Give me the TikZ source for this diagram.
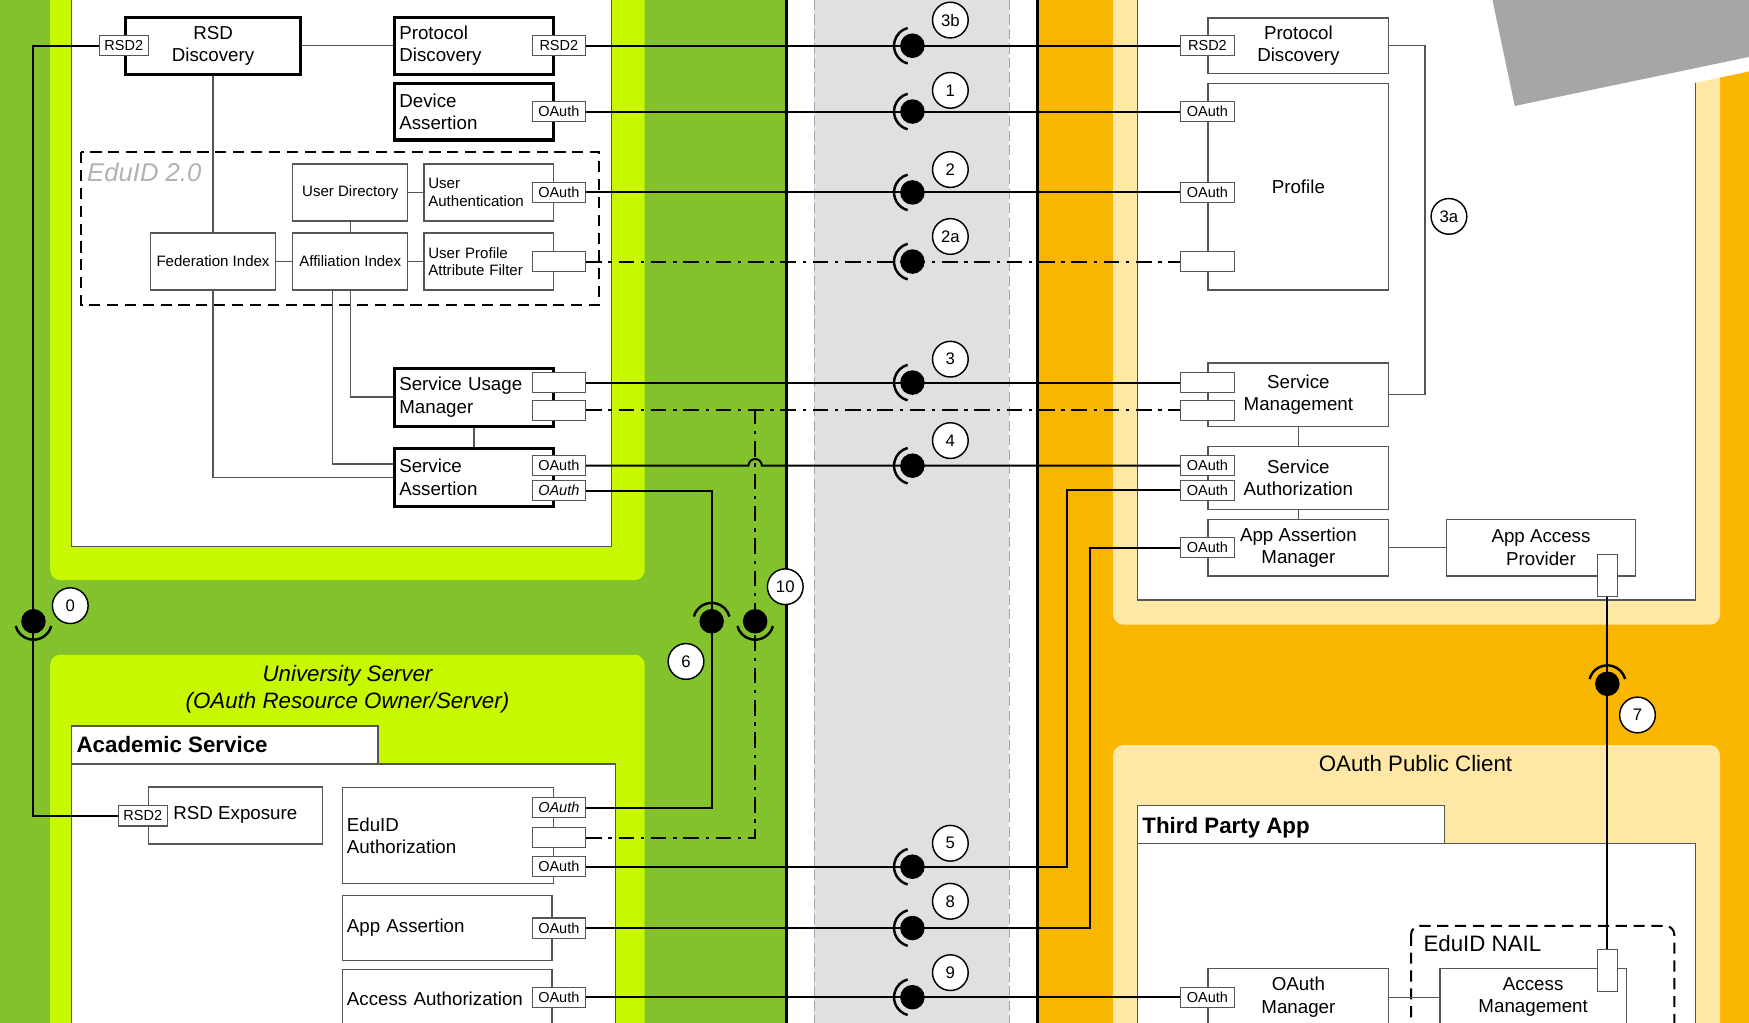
\documentclass[tikz,border=0pt]{standalone}
\usepackage{fontspec}
\setmainfont{Liberation Sans}

\definecolor{leaf}{RGB}{130,195,45}
\definecolor{limefill}{RGB}{200,248,0}
\definecolor{amber}{RGB}{248,182,0}
\definecolor{sand}{RGB}{255,232,165}
\definecolor{lane}{RGB}{224,224,224}
\definecolor{slate}{RGB}{166,166,166}
\definecolor{rim}{RGB}{85,85,85}

\newcommand\bigtxt{\fontsize{16.8pt}{20pt}\selectfont}
\newcommand\smalltxt{\fontsize{13.5pt}{16pt}\selectfont}
\newcommand\porttxt{\fontsize{13pt}{15pt}\selectfont}
\newcommand\numtxt{\fontsize{15pt}{17pt}\selectfont}
\newcommand\headtxt{\fontsize{20pt}{24pt}\selectfont}

\tikzset{
  comp/.style={draw=rim, line width=1.2pt, fill=white, inner sep=0pt, font=\bigtxt, align=center},
  heavy/.style={comp, draw=black, line width=2.8pt},
  ltext/.style={inner xsep=4pt, text width=#1, align=left},
  port/.style={draw=rim, line width=1pt, fill=white, minimum width=48pt, minimum height=18pt, inner sep=0pt, font=\porttxt},
  vport/.style={port, minimum width=17.5pt, minimum height=37pt},
  wire/.style={line width=1.8pt},
  link/.style={draw=rim, line width=1.1pt},
  dashdot/.style={wire, dash pattern=on 14pt off 6pt on 3pt off 6pt},
  panel/.style={draw=rim, line width=1.2pt, fill=white},
  dashbox/.style={line width=1.8pt, dash pattern=on 10pt off 6pt},
  num/.style={circle, draw, fill=white, line width=1.3pt, minimum size=32pt, inner sep=0pt, font=\numtxt},
  pics/socket/.style={code={
    \fill (0,0) circle (11);
    \draw[line width=2.2pt] (#1-75:16.5) arc (#1-75:#1+75:16.5);
  }},
}

\begin{document}
\begin{tikzpicture}[x=1pt,y=-1pt]
\useasboundingbox (0,0) rectangle (1568,917);
\clip (0,0) rectangle (1568,917);

% lanes
\fill[white] (0,0) rectangle (1568,917);
\fill[leaf] (0,0) rectangle (705,917);
\fill[lane] (730,0) rectangle (905,917);
\draw[black!35, line width=1pt, dash pattern=on 9pt off 4pt] (730,0) -- (730,917) (905,0) -- (905,917);
\fill[amber] (930,0) rectangle (1568,917);
\draw[line width=2.2pt] (705,0) -- (705,917) (930,0) -- (930,917);

% containers
\fill[limefill, rounded corners=9pt] (45,-20) rectangle (578,520);
\draw[panel] (64,-20) rectangle (548,490);
\fill[limefill, rounded corners=9pt] (45,587) rectangle (578,940);
\draw[panel] (64,685) rectangle (552,940);
\draw[panel] (64,651) rectangle (339,685);
\fill[sand, rounded corners=9pt] (998,-20) rectangle (1542,560);
\draw[panel] (1020,-20) rectangle (1520,538);
\fill[sand, rounded corners=9pt] (998,668) rectangle (1542,940);
\draw[panel] (1020,756) rectangle (1520,940);
\draw[panel] (1020,722) rectangle (1295,756);
\fill[white] (1330,0) -- (1568,0) -- (1568,64) -- (1330,114) -- cycle;
\fill[slate] (1338,0) -- (1568,0) -- (1568,51) -- (1358,95) -- cycle;
\draw[dashbox] (73,136.5) rectangle (537,273.5);
\draw[dashbox, rounded corners=8pt] (1265,830) rectangle (1501,940);

% titles
\node[anchor=base west, inner sep=0pt, font=\fontsize{23pt}{27pt}\selectfont\itshape, text=black!30] (eid) at (78,163) {EduID 2.0};
\node[anchor=base, inner sep=0pt, font=\headtxt\itshape] (uni1) at (311.5,611) {University Server};
\node[anchor=base, inner sep=0pt, font=\headtxt\itshape] (uni2) at (311.5,635) {(OAuth Resource Owner/Server)};
\node[anchor=base west, inner sep=0pt, font=\headtxt\bfseries] (acs) at (68.5,675) {Academic Service};
\node[anchor=base, inner sep=0pt, font=\headtxt] (opc) at (1269,692) {OAuth Public Client};
\node[anchor=base west, inner sep=0pt, font=\headtxt\bfseries] (tpa) at (1024,747) {Third Party App};
\node[anchor=base west, inner sep=0pt, font=\headtxt] (nail) at (1276,853) {EduID NAIL};

% university server, upper part
\node[heavy, minimum width=157pt, minimum height=51pt] (rsd) at (191,41) {RSD\\Discovery};
\node[port, minimum width=44pt] (rsd-p) at (111,41) {RSD2};
\node[heavy, minimum width=142pt, minimum height=51pt, ltext=134pt] (pdl) at (425,41) {Protocol\\Discovery};
\node[port] (pdl-p) at (501,41) {RSD2};
\node[heavy, minimum width=142pt, minimum height=51pt, ltext=134pt] (da) at (425,100) {Device\\Assertion};
\node[port] (da-p) at (501,100) {OAuth};
\node[comp, minimum width=103pt, minimum height=51pt, font=\smalltxt] (ud) at (314,172.5) {User Directory};
\node[comp, minimum width=116pt, minimum height=51pt, ltext=108pt, font=\smalltxt] (ua) at (438,172.5) {User\\Authentication};
\node[port] (ua-p) at (501,172.5) {OAuth};
\node[comp, minimum width=112pt, minimum height=51pt, font=\smalltxt] (fed) at (191,234.5) {Federation Index};
\node[comp, minimum width=103pt, minimum height=51pt, font=\smalltxt] (aff) at (314,234.5) {Affiliation Index};
\node[comp, minimum width=116pt, minimum height=51pt, ltext=108pt, font=\smalltxt] (upf) at (438,234.5) {User Profile\\Attribute Filter};
\node[port] (upf-p) at (501,234.5) {};
\node[heavy, minimum width=142pt, minimum height=52pt, ltext=134pt] (sum) at (425,356) {Service Usage\\Manager};
\node[port] (sum-p1) at (501,343) {};
\node[port] (sum-p2) at (501,368) {};
\node[heavy, minimum width=142pt, minimum height=52pt, ltext=134pt] (sa) at (425,428) {Service\\Assertion};
\node[port] (sa-p1) at (501,417.5) {OAuth};
\node[port] (sa-p2) at (501,440) {\textit{OAuth}};

% academic service
\node[comp, minimum width=156pt, minimum height=51pt] (rsx) at (211,731) {RSD Exposure};
\node[port, minimum width=44pt] (rsx-p) at (128,731.5) {RSD2};
\node[comp, minimum width=189pt, minimum height=86pt, ltext=181pt] (ea) at (401.5,749) {EduID\\Authorization};
\node[port] (ea-p1) at (501,724) {\textit{OAuth}};
\node[port] (ea-p2) at (501,751) {};
\node[port] (ea-p3) at (501,777) {OAuth};
\node[comp, minimum width=188pt, minimum height=58pt, ltext=180pt] (aa) at (401,832) {App Assertion};
\node[port] (aa-p) at (501,832) {OAuth};
\node[comp, minimum width=188pt, minimum height=52pt, ltext=180pt] (acc) at (401,895) {Access Authorization};
\node[port] (acc-p) at (501,894) {OAuth};

% eduid service
\node[comp, minimum width=162pt, minimum height=50pt] (pdr) at (1164,41) {Protocol\\Discovery};
\node[port] (pdr-p) at (1082.5,41) {RSD2};
\node[comp, minimum width=162pt, minimum height=185pt] (pro) at (1164,167.5) {Profile};
\node[port] (pro-p1) at (1082.5,100) {OAuth};
\node[port] (pro-p2) at (1082.5,172.5) {OAuth};
\node[port] (pro-p3) at (1082.5,234.5) {};
\node[comp, minimum width=162pt, minimum height=57pt] (sm) at (1164,354) {Service\\Management};
\node[port] (sm-p1) at (1082.5,343) {};
\node[port] (sm-p2) at (1082.5,368) {};
\node[comp, minimum width=162pt, minimum height=57pt] (sz) at (1164,428.5) {Service\\Authorization};
\node[port] (sz-p1) at (1082.5,417.5) {OAuth};
\node[port] (sz-p2) at (1082.5,439.5) {OAuth};
\node[comp, minimum width=162pt, minimum height=51pt] (aam) at (1164,491) {App Assertion\\Manager};
\node[port] (aam-p) at (1082.5,491) {OAuth};
\node[comp, minimum width=169pt, minimum height=51pt] (aap) at (1381.5,491) {App Access\\Provider};
\node[vport] (aap-p) at (1441,516) {};

% third party app
\node[comp, minimum width=162pt, minimum height=52pt] (om) at (1164,894) {OAuth\\Manager};
\node[port] (om-p) at (1082.5,894) {OAuth};
\node[comp, minimum width=167pt, minimum height=52pt] (am) at (1374.5,894) {Access\\Management};
\node[vport] (am-p) at (1441,870) {};

% internal links
\draw[link] (rsd) -- (pdl);
\draw[link] (rsd) -- (fed);
\draw[link] (ud) -- (ua);
\draw[link] (ud) -- (aff);
\draw[link] (fed) -- (aff);
\draw[link] (aff) -- (upf);
\draw[link] (aff.south) |- (sum.west);
\draw[link] ([xshift=-16pt]aff.south) |- ([yshift=12pt]sa.west);
\draw[link] (fed.south) |- (sa.west);
\draw[link] (sum) -- (sa);
\draw[link] (pdr.east) -| ([xshift=32pt]sm.east) -- (sm.east);
\draw[link] (sm) -- (sz);
\draw[link] (sz) -- (aam);
\draw[link] (aam) -- (aap);
\draw[link] (om) -- (am);

% interfaces
\coordinate (j10) at (677,368);
\coordinate (hop) at (677,417.5);
\draw[wire] (rsd-p.west) -| ([xshift=-76pt]rsx-p.west) -- (rsx-p.west);
\draw[wire] (pdl-p.east) -- (pdr-p.west);
\draw[wire] (da-p.east) -- (pro-p1.west);
\draw[wire] (ua-p.east) -- (pro-p2.west);
\draw[dashdot] (upf-p.east) -- (pro-p3.west);
\draw[wire] (sum-p1.east) -- (sm-p1.west);
\draw[dashdot] (sum-p2.east) -- (sm-p2.west);
\draw[dashdot] (ea-p2.east) -| (j10);
\draw[wire] (sa-p1.east) -- ([xshift=-6pt]hop) arc (180:360:6) -- (sz-p1.west);
\draw[wire] (sa-p2.east) -| ([xshift=113pt]ea-p1.east) -- (ea-p1.east);
\draw[wire] (ea-p3.east) -| ([xshift=-101pt]sz-p2.west) -- (sz-p2.west);
\draw[wire] (aa-p.east) -| ([xshift=-81pt]aam-p.west) -- (aam-p.west);
\draw[wire] (acc-p.east) -- (om-p.west);
\draw[wire] (aap-p.south) -- (am-p.north);

% ball and socket
\pic at (30,557) {socket=90};
\pic at (638,557) {socket=270};
\pic at (677,557) {socket=90};
\pic at (1441,613) {socket=270};
\foreach \y in {41,100,172.5,234.5,343,417.5,777,832,894}
  \pic at (818,\y) {socket=180};

% numbers
\node[num] (n0) at (63,543) {0};
\node[num] (n3b) at (852,18) {3b};
\node[num] (n1) at (852,81) {1};
\node[num] (n2) at (852,152) {2};
\node[num] (n2a) at (852,212) {2a};
\node[num] (n3) at (852,322) {3};
\node[num] (n4) at (852,395) {4};
\node[num] (n5) at (852,756) {5};
\node[num] (n8) at (852,808) {8};
\node[num] (n9) at (852,872) {9};
\node[num] (n6) at (615,593) {6};
\node[num] (n10) at (704,526) {10};
\node[num] (n7) at (1468,641) {7};
\node[num] (n3a) at (1299,194) {3a};
\end{tikzpicture}
\end{document}
